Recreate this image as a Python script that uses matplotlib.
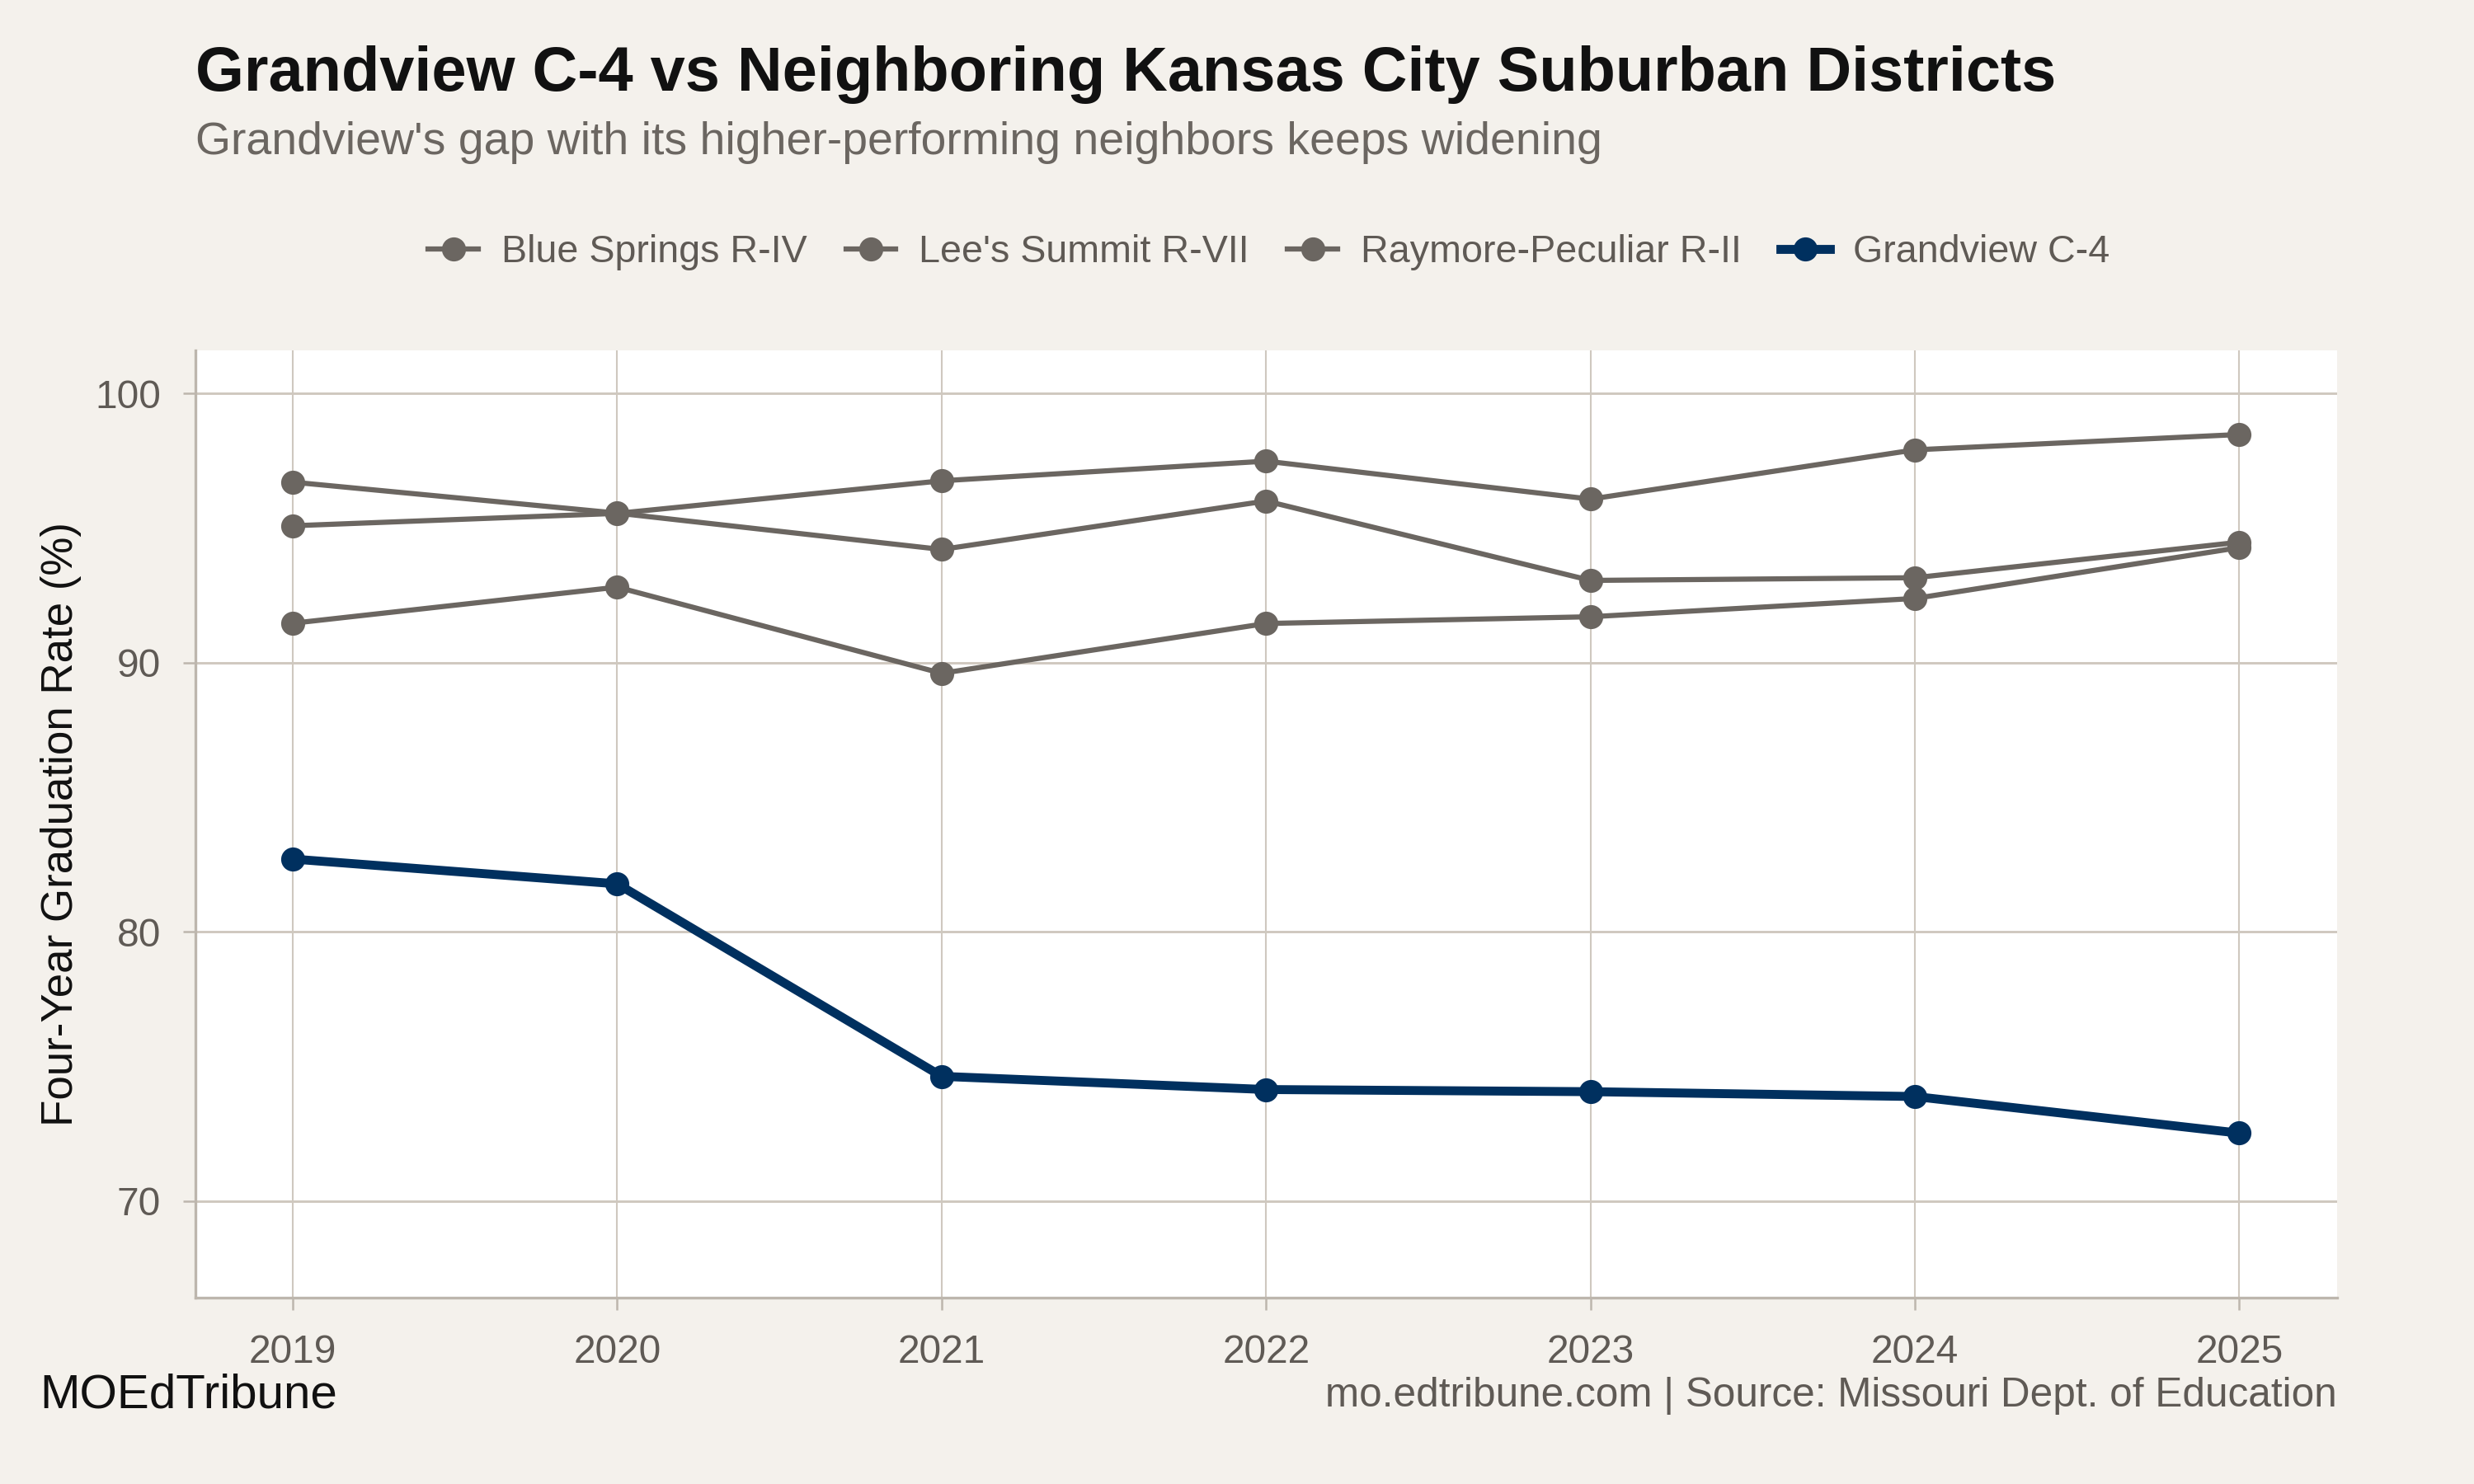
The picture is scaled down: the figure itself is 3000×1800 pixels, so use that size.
import matplotlib.pyplot as plt

years = [2019, 2020, 2021, 2022, 2023, 2024, 2025]
blue_springs = [96.7, 95.55, 94.2, 96.0, 93.05, 93.15, 94.47]
lees_summit = [95.08, 95.54, 96.75, 97.48, 96.07, 97.9, 98.47]
raymore = [91.46, 92.8, 89.6, 91.45, 91.7, 92.38, 94.27]
grandview = [82.7, 81.78, 74.63, 74.14, 74.06, 73.88, 72.52]

bg = '#F4F1EC'
grey = '#6B6661'
navy = '#00305F'
grid = '#CFC8BF'

plt.rcParams['font.family'] = ['Liberation Sans', 'DejaVu Sans']

fig = plt.figure(figsize=(10, 6), dpi=300, facecolor=bg)
ax = fig.add_axes([0.079, 0.1254, 0.8655, 0.6386])
ax.set_facecolor('white')

for name, vals in [('Blue Springs R-IV', blue_springs),
                   ("Lee's Summit R-VII", lees_summit),
                   ('Raymore-Peculiar R-II', raymore)]:
    ax.plot(years, vals, color=grey, lw=1.5, marker='o', ms=6, label=name, zorder=3)
ax.plot(years, grandview, color=navy, lw=2.6, marker='o', ms=6, label='Grandview C-4', zorder=4)

ax.set_xlim(2018.7, 2025.3)
ax.set_ylim(66.4, 101.6)
ax.set_xticks(years)
ax.set_yticks([70, 80, 90, 100])
ax.grid(axis='y', color=grid, lw=0.7)
ax.grid(axis='x', color=grid, lw=0.5)
ax.set_axisbelow(True)
for s in ['top', 'right']:
    ax.spines[s].set_visible(False)
for s in ['left', 'bottom']:
    ax.spines[s].set_color('#BDB6AD')
    ax.spines[s].set_linewidth(0.8)
ax.tick_params(length=3.6, width=0.6, color='#BDB6AD', labelsize=11.5, labelcolor='#5F5A55')
ax.tick_params(axis='x', pad=7)
ax.tick_params(axis='y', pad=6.5)
ax.set_ylabel('Four-Year Graduation Rate (%)', fontsize=12.7, color='#111111')
ax.yaxis.set_label_coords(-0.053, 0.5)

fig.text(0.079, 0.95, 'Grandview C-4 vs Neighboring Kansas City Suburban Districts',
         fontsize=18.2, fontweight='bold', color='#111111', va='center', ha='left')
fig.text(0.079, 0.904, "Grandview's gap with its higher-performing neighbors keeps widening",
         fontsize=13.3, color='#6B6661', va='center', ha='left')

fig.legend(loc='center', bbox_to_anchor=(0.513, 0.83), ncol=4, frameon=False,
           fontsize=11.2, labelcolor='#5F5A55', handlelength=1.3, handletextpad=0.6,
           columnspacing=1.0)

fig.text(0.016, 0.0595, 'MOEdTribune', fontsize=14, color='#111111', va='center', ha='left')
fig.text(0.9445, 0.0595, 'mo.edtribune.com | Source: Missouri Dept. of Education',
         fontsize=11.9, color='#5F5A55', va='center', ha='right')

fig.savefig('out.png', dpi=300, facecolor=bg)
